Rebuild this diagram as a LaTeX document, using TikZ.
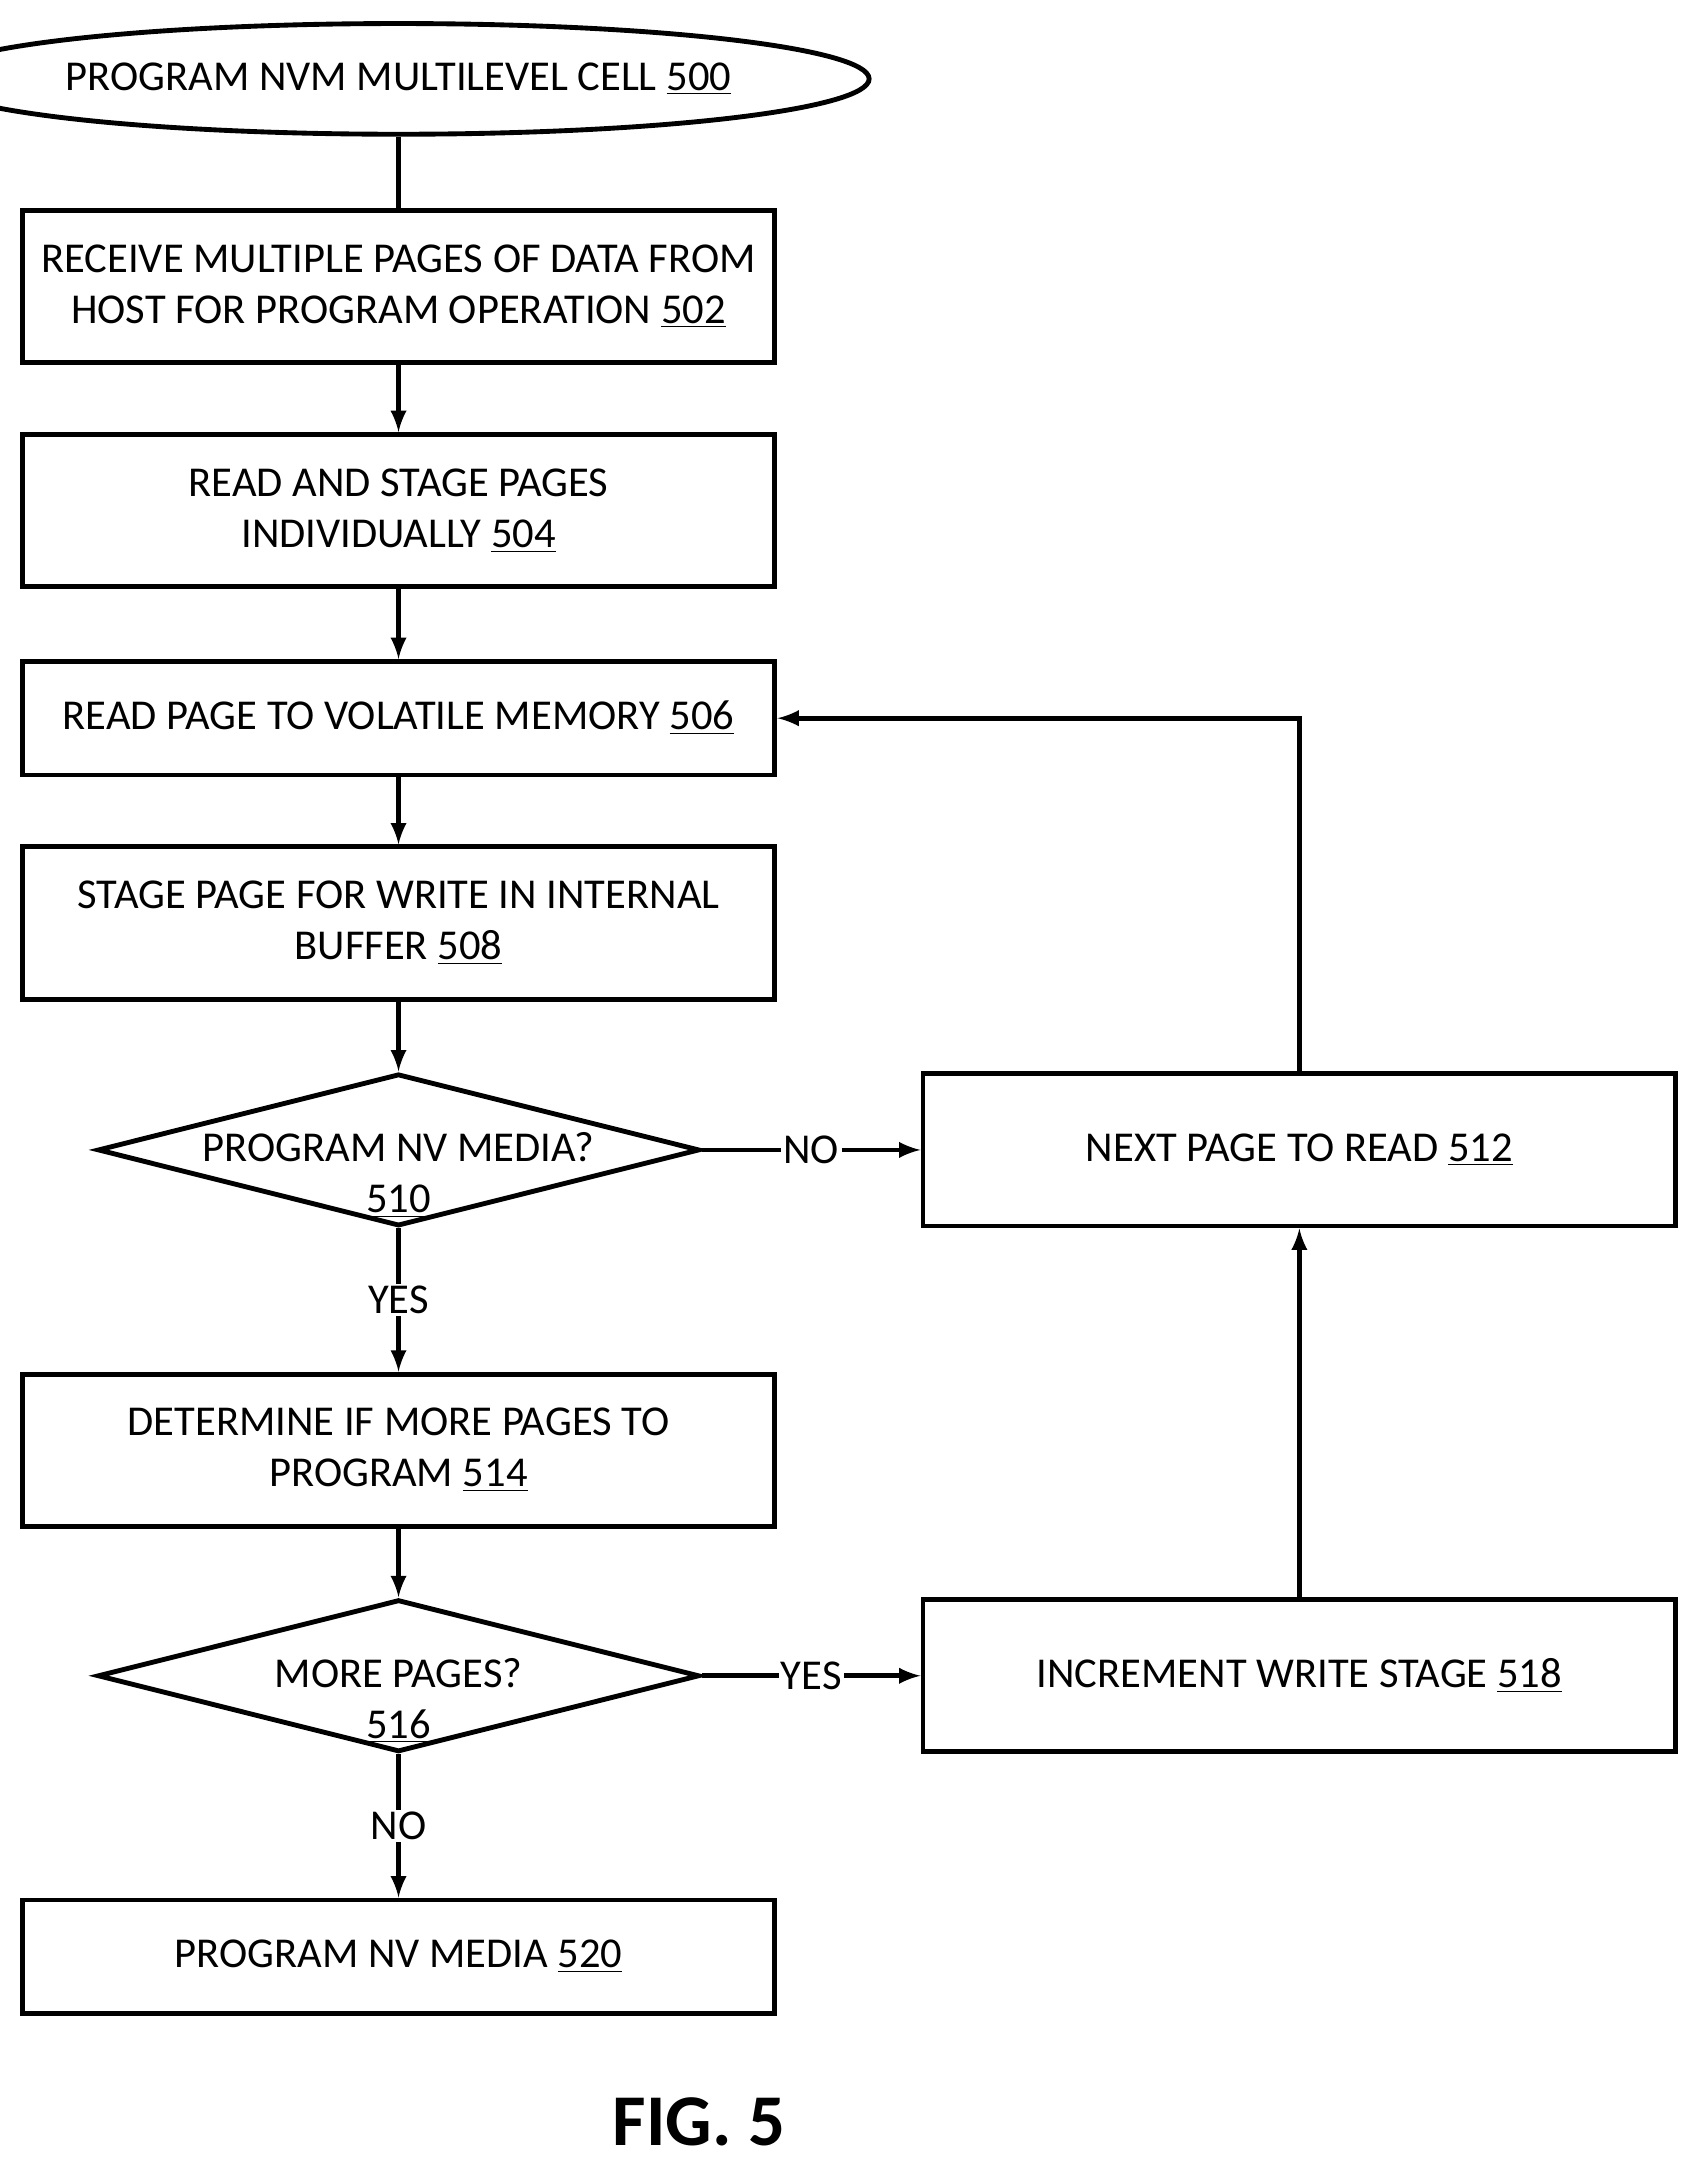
\documentclass[tikz,border=0pt]{standalone}
\usepackage{fontspec}
\setmainfont{Carlito}
\usetikzlibrary{arrows}
\usetikzlibrary{shapes}
\begin{document}
\begin{tikzpicture}[x=0.02cm,y=-0.02cm,line width=2pt,>=latex,font=\fontsize{17.5}{21}\selectfont,
  box/.style={draw,rectangle,minimum width=544*0.02cm,align=center,inner sep=0pt},
  dia/.style={draw,diamond,minimum width=435*0.02cm,minimum height=110*0.02cm,inner sep=0pt,aspect=4},
  lbl/.style={fill=white,inner sep=1pt},
  arr/.style={-{latex[scale=1.6]}}]
\useasboundingbox (0,0) rectangle (1226,1566);
\node [draw,ellipse,minimum width=540*0.02cm,minimum height=80*0.02cm,inner sep=0pt] (n500) at (288,57) {PROGRAM NVM MULTILEVEL CELL \underline{500}};
\node [box,minimum height=110*0.02cm] (n502) at (288,207) {RECEIVE MULTIPLE PAGES OF DATA FROM\\HOST FOR PROGRAM OPERATION \underline{502}};
\node [box,minimum height=110*0.02cm] (n504) at (288,369) {READ AND STAGE PAGES\\INDIVIDUALLY \underline{504}};
\node [box,minimum height=82*0.02cm] (n506) at (288,519) {READ PAGE TO VOLATILE MEMORY \underline{506}};
\node [box,minimum height=110*0.02cm] (n508) at (288,667) {STAGE PAGE FOR WRITE IN INTERNAL\\BUFFER \underline{508}};
\node [dia] (n510) at (288,831) {};
\node [align=center] (t510) at (288,849) {PROGRAM NV MEDIA?\\\underline{510}};
\node [box,minimum height=110*0.02cm] (n512) at (939,831) {NEXT PAGE TO READ \underline{512}};
\node [box,minimum height=110*0.02cm] (n514) at (288,1048) {DETERMINE IF MORE PAGES TO\\PROGRAM \underline{514}};
\node [dia] (n516) at (288,1211) {};
\node [align=center] (t516) at (288,1229) {MORE PAGES?\\\underline{516}};
\node [box,minimum height=110*0.02cm] (n518) at (939,1211) {INCREMENT WRITE STAGE \underline{518}};
\node [box,minimum height=82*0.02cm] (n520) at (288,1414) {PROGRAM NV MEDIA \underline{520}};
\node [font=\fontsize{30}{36}\selectfont\bfseries] (fig) at (505,1533) {FIG. 5};
\draw (n500) -- (n502);
\draw [arr] (n502) -- (n504);
\draw [arr] (n504) -- (n506);
\draw [arr] (n506) -- (n508);
\draw [arr] (n508) -- (n510);
\draw [arr] (n510) -- (n512) node [lbl,midway] {NO};
\draw [arr] (n510) -- (n514) node [lbl,midway] {YES};
\draw [arr] (n512.north) |- (n506.east);
\draw [arr] (n514) -- (n516);
\draw [arr] (n516) -- (n518) node [lbl,midway] {YES};
\draw [arr] (n518) -- (n512);
\draw [arr] (n516) -- (n520) node [lbl,midway] {NO};
\end{tikzpicture}
\end{document}
